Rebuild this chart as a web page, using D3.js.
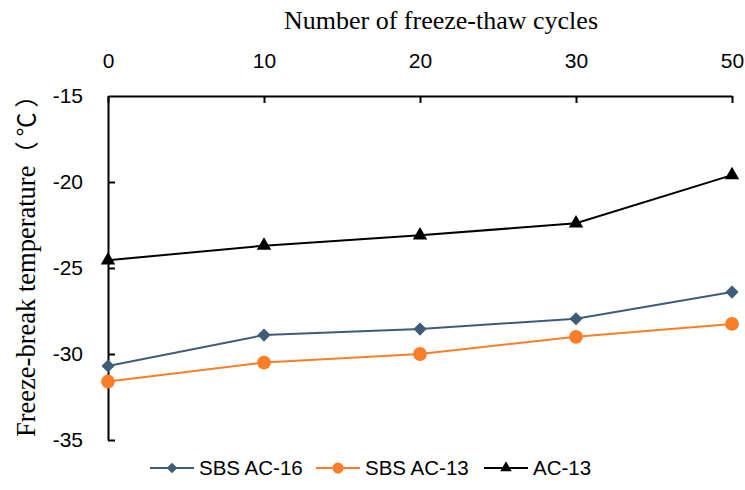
<!DOCTYPE html>
<html>
<head>
<meta charset="utf-8">
<script src="https://cdn.jsdelivr.net/npm/d3@7"></script>
<style>
  body { margin: 0; background: #fff; }
  svg { display: block; }
</style>
</head>
<body>
<svg id="vis"></svg>
<script>
const plotWidth = 745;
const plotHeight = 490;

// data
const cycles = ['0', '10', '20', '30', '50'];
const sbsAc16 = [-30.7, -28.9, -28.55, -27.95, -26.4];
const sbsAc13 = [-31.6, -30.5, -30.0, -29.0, -28.25];
const ac13 = [-24.55, -23.7, -23.1, -22.4, -19.6];
const yTicks = [-15, -20, -25, -30, -35];

const seriesList = [
    {name: 'SBS AC-16', values: sbsAc16, color: '#3E5B7A', marker: 'diamond'},
    {name: 'SBS AC-13', values: sbsAc13, color: '#FA7D28', marker: 'circle'},
    {name: 'AC-13', values: ac13, color: '#000000', marker: 'triangle'},
];

const svg = d3.select('#vis')
    .attr('width', plotWidth)
    .attr('height', plotHeight);

const sansFont = 'Liberation Sans, Arial, sans-serif';
const serifFont = 'Liberation Serif, Times New Roman, serif';

const x = d3.scalePoint().domain(cycles).range([108, 732]);
const y = d3.scaleLinear().domain([-35, -15]).range([440, 96]);

function markerPath(kind) {
    if (kind === 'diamond') return d3.symbol(d3.symbolDiamond2, 110)();
    if (kind === 'circle') return d3.symbol(d3.symbolCircle, 150)();
    return d3.symbol(d3.symbolTriangle, 90)();
}

// x axis on top
const xAxis = svg.append('g')
    .attr('transform', `translate(0,${y(-15)})`)
    .call(d3.axisTop(x).tickSizeInner(-7).tickSizeOuter(0).tickPadding(28));
// y axis on left
const yAxis = svg.append('g')
    .attr('transform', `translate(${x('0')},0)`)
    .call(d3.axisLeft(y).tickValues(yTicks).tickFormat(d => String(d)).tickSizeInner(-7).tickSizeOuter(0).tickPadding(25));

[xAxis, yAxis].forEach(ax => {
    ax.select('.domain').attr('stroke', '#000').attr('stroke-width', 2);
    ax.selectAll('.tick line').attr('stroke', '#000').attr('stroke-width', 2);
    ax.selectAll('.tick text')
        .attr('fill', '#000')
        .style('font-family', sansFont)
        .style('font-size', '21px');
});
// the -15 tick on the y axis sits on the x axis line
yAxis.selectAll('.tick line').filter(d => d === -15).remove();

// titles
svg.append('text')
    .attr('x', 441)
    .attr('y', 29)
    .attr('text-anchor', 'middle')
    .style('font-family', serifFont)
    .style('font-size', '26px')
    .text('Number of freeze-thaw cycles');

const yTitle = svg.append('text')
    .attr('transform', 'translate(35,437) rotate(-90)')
    .attr('text-anchor', 'start')
    .style('font-family', serifFont)
    .style('font-size', '26.5px');
yTitle.append('tspan').text('Freeze-break temperature');
yTitle.append('tspan')
    .style('font-family', 'Noto Sans CJK SC, sans-serif')
    .style('font-size', '24px')
    .style('letter-spacing', '5px')
    .text('（℃）');

// lines and markers
const line = d3.line()
    .x((d, i) => x(cycles[i]))
    .y(d => y(d));

seriesList.forEach(s => {
    svg.append('path')
        .datum(s.values)
        .attr('fill', 'none')
        .attr('stroke', s.color)
        .attr('stroke-width', 2)
        .attr('d', line);
    svg.selectAll(null)
        .data(s.values)
        .enter()
        .append('path')
        .attr('d', markerPath(s.marker))
        .attr('transform', (d, i) => `translate(${x(cycles[i])},${y(d)})`)
        .attr('fill', s.color);
});

// legend
const legendX = [150, 316, 484];
const legendY = 468;
seriesList.forEach((s, i) => {
    const g = svg.append('g').attr('transform', `translate(${legendX[i]},${legendY})`);
    g.append('line')
        .attr('x1', 0).attr('x2', 44)
        .attr('stroke', s.color)
        .attr('stroke-width', 2);
    g.append('path')
        .attr('d', markerPath(s.marker))
        .attr('transform', 'translate(22,0) scale(0.8)')
        .attr('fill', s.color);
    g.append('text')
        .attr('x', 49)
        .attr('dy', '0.35em')
        .style('font-family', sansFont)
        .style('font-size', '20.5px')
        .text(s.name);
});
</script>
</body>
</html>
